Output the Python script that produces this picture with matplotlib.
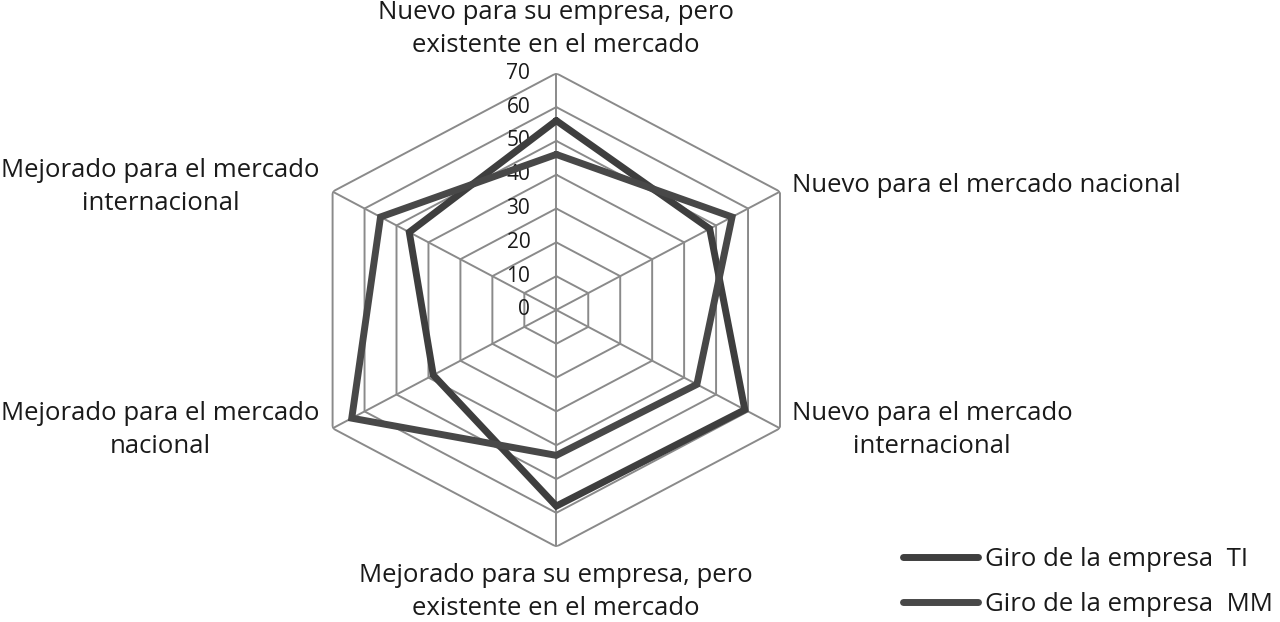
import numpy as np
import matplotlib
matplotlib.use("Agg")
import matplotlib.pyplot as plt

plt.rcParams['font.family'] = ['Open Sans', 'DejaVu Sans']

categories = [
    "Nuevo para su empresa, pero\nexistente en el mercado",
    "Nuevo para el mercado nacional",
    "Nuevo para el mercado\ninternacional",
    "Mejorado para su empresa, pero\nexistente en el mercado",
    "Mejorado para el mercado\nnacional",
    "Mejorado para el mercado\ninternacional",
]
series_names = ["Giro de la empresa  TI", "Giro de la empresa  MM"]
values_ti = [56, 48, 59, 58, 38.5, 46]
values_mm = [46, 55, 44, 43, 64, 55]
radial_ticks = [0, 10, 20, 30, 40, 50, 60, 70]

W, H = 1280, 622
fig = plt.figure(figsize=(W / 100, H / 100), dpi=100)
ax = fig.add_axes([0.2328, 0.1211, 0.4036, 0.7611], projection='polar')
ax.set_aspect('auto')
ax.set_theta_offset(np.pi / 2)
ax.set_theta_direction(-1)
ax.set_ylim(0, 70)
ax.grid(False)
ax.spines['polar'].set_visible(False)
ax.set_xticks([])
ax.set_yticks([])
ax.patch.set_visible(False)

n = len(categories)
angles = np.linspace(0, 2 * np.pi, n, endpoint=False)
closed = np.append(angles, angles[0])

grid_color = '#8a8a8a'
for r in radial_ticks[1:]:
    ax.plot(closed, [r] * (n + 1), color=grid_color, lw=1.4, zorder=1)
for a in angles:
    ax.plot([a, a], [0, radial_ticks[-1]], color=grid_color, lw=1.4, zorder=1)

for r in radial_ticks:
    ax.annotate(str(r), xy=(0, r), xytext=(-26, 0), textcoords='offset pixels',
                ha='right', va='center', fontsize=15, color='#1a1a1a')

colors = ['#3e3e3e', '#484848']
for vals, name, c in zip([values_ti, values_mm], series_names, colors):
    v = list(vals) + [vals[0]]
    ax.plot(closed, v, color=c, lw=5, label=name, zorder=3,
            solid_joinstyle='miter', solid_capstyle='round')

offsets = [(0, 44, 'center'), (12, 6, 'left'), (152, -2, 'center'),
           (0, -45, 'center'), (-172, -2, 'center'), (-172, 5, 'center')]
for a, lab, (dx, dy, ha) in zip(angles, categories, offsets):
    ax.annotate(lab, xy=(a, 70), xytext=(dx, dy), textcoords='offset pixels',
                ha=ha, va='center', multialignment='center', fontsize=18.5,
                color='#1a1a1a', linespacing=1.42, annotation_clip=False)

leg = fig.legend(loc='center left', bbox_to_anchor=(903 / W, 1 - 582 / H),
                 frameon=False, fontsize=18.5, handlelength=2.9, handletextpad=0.3,
                 labelspacing=0.8, borderpad=0, borderaxespad=0)
for t in leg.get_texts():
    t.set_color('#1a1a1a')

fig.savefig('out.png', dpi=100)
